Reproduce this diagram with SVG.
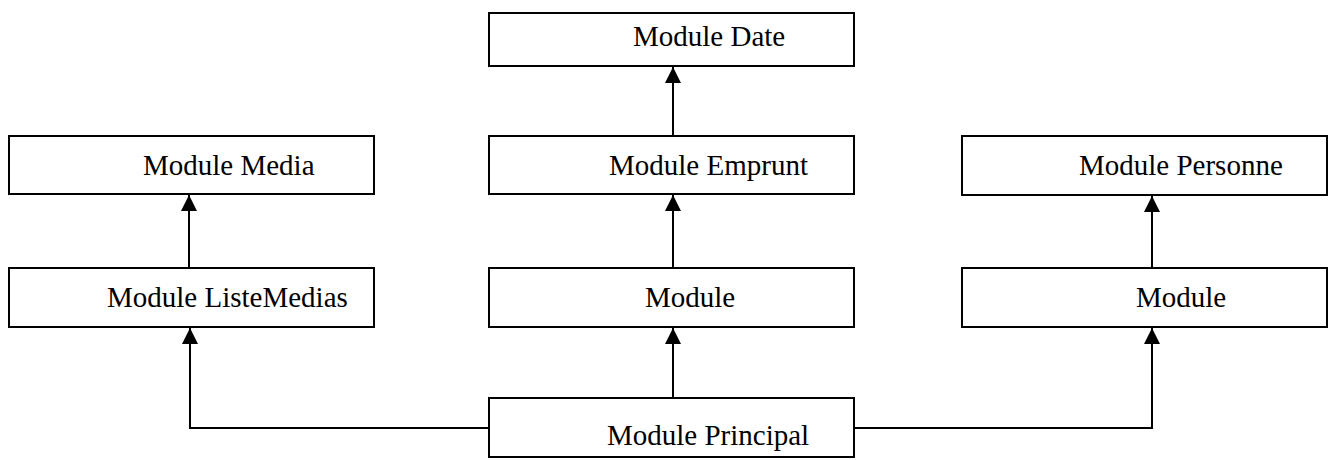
<svg xmlns="http://www.w3.org/2000/svg" width="1328" height="460" viewBox="0 0 1328 460">
  <style>
    .box { fill: #ffffff; stroke: #000000; stroke-width: 2; }
    .lbl { font-family: "Liberation Serif", "Times New Roman", serif; font-size: 29px; fill: #000000; }
    .wire { fill: none; stroke: #000000; stroke-width: 2; }
  </style>
  <defs>
    <marker id="tip" markerWidth="16" markerHeight="16" refX="16" refY="8" orient="auto" markerUnits="userSpaceOnUse">
      <path d="M0,0 L16,8 L0,16 Z" fill="#000000"/>
    </marker>
  </defs>
  <rect width="1328" height="460" fill="#ffffff"/>

  <!-- dependency arrows -->
  <g id="connectors">
    <path class="wire" d="M673,136 L673,67" marker-end="url(#tip)"/>
    <path class="wire" d="M189,268 L189,195" marker-end="url(#tip)"/>
    <path class="wire" d="M673,268 L673,195" marker-end="url(#tip)"/>
    <path class="wire" d="M1152,268 L1152,196" marker-end="url(#tip)"/>
    <path class="wire" d="M673,398 L673,328" marker-end="url(#tip)"/>
    <path class="wire" d="M489,428 L190,428 L190,328" marker-end="url(#tip)"/>
    <path class="wire" d="M854,428 L1152,428 L1152,328" marker-end="url(#tip)"/>
  </g>

  <g id="date">
    <rect class="box" x="489" y="13" width="365" height="53"/>
    <text class="lbl" x="633" y="46">Module Date</text>
  </g>
  <g id="media">
    <rect class="box" x="9" y="136" width="365" height="58"/>
    <text class="lbl" x="143" y="175">Module Media</text>
  </g>
  <g id="emprunt">
    <rect class="box" x="489" y="136" width="365" height="58"/>
    <text class="lbl" x="609" y="175">Module Emprunt</text>
  </g>
  <g id="personne">
    <rect class="box" x="962" y="136" width="365" height="59"/>
    <text class="lbl" x="1079" y="175">Module Personne</text>
  </g>
  <g id="listemedias">
    <rect class="box" x="9" y="268" width="365" height="59"/>
    <text class="lbl" x="107" y="307">Module ListeMedias</text>
  </g>
  <g id="module-middle">
    <rect class="box" x="489" y="268" width="365" height="59"/>
    <text class="lbl" x="645" y="307">Module</text>
  </g>
  <g id="module-right">
    <rect class="box" x="962" y="268" width="365" height="59"/>
    <text class="lbl" x="1136" y="307">Module</text>
  </g>
  <g id="principal">
    <rect class="box" x="489" y="398" width="365" height="59"/>
    <text class="lbl" x="607" y="445">Module Principal</text>
  </g>
</svg>
